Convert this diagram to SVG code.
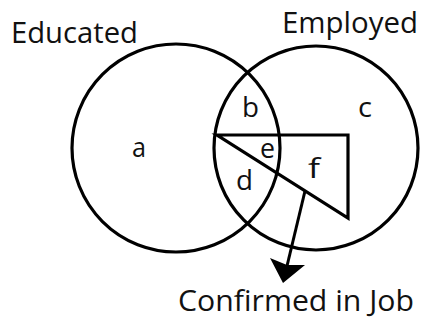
<svg xmlns="http://www.w3.org/2000/svg" width="424" height="320" viewBox="0 0 424 320">
<style>
.c{fill:none;stroke:#000;stroke-width:3.2}
.l{fill:none;stroke:#000;stroke-width:3.2;stroke-linejoin:miter}
.t{font-family:"Open Sans","Noto Sans",sans-serif;fill:#111}
.big{font-size:29px}
.sm{font-size:28px}
</style>
<rect width="424" height="320" fill="#fff"/>
<g id="educated">
<circle class="c" cx="176" cy="148" r="104"/>
<text class="t big" x="11" y="43" textLength="127" lengthAdjust="spacingAndGlyphs">Educated</text>
</g>
<g id="employed">
<circle class="c" cx="316" cy="148" r="102"/>
<text class="t big" x="282" y="33" textLength="136" lengthAdjust="spacingAndGlyphs">Employed</text>
</g>
<g id="confirmed">
<polygon class="l" points="217,135 348,135 348,218"/>
<text class="t big" x="178" y="311" textLength="236" lengthAdjust="spacingAndGlyphs">Confirmed in Job</text>
</g>
<g id="regions">
<text class="t sm" x="132" y="157" textLength="14" lengthAdjust="spacingAndGlyphs">a</text>
<text class="t sm" x="242" y="117" textLength="17" lengthAdjust="spacingAndGlyphs">b</text>
<text class="t sm" x="358" y="117" textLength="14" lengthAdjust="spacingAndGlyphs">c</text>
<text class="t sm" x="260" y="158" textLength="15" lengthAdjust="spacingAndGlyphs">e</text>
<text class="t sm" x="236" y="190" textLength="17" lengthAdjust="spacingAndGlyphs">d</text>
<text class="t sm" x="308" y="178" textLength="12" lengthAdjust="spacingAndGlyphs">f</text>
</g>
<g id="connectors">
<line x1="305" y1="191" x2="287" y2="266" stroke="#000" stroke-width="3"/>
<polygon points="270,258 287,265 305,265 283,283" fill="#000"/>
</g>
</svg>
